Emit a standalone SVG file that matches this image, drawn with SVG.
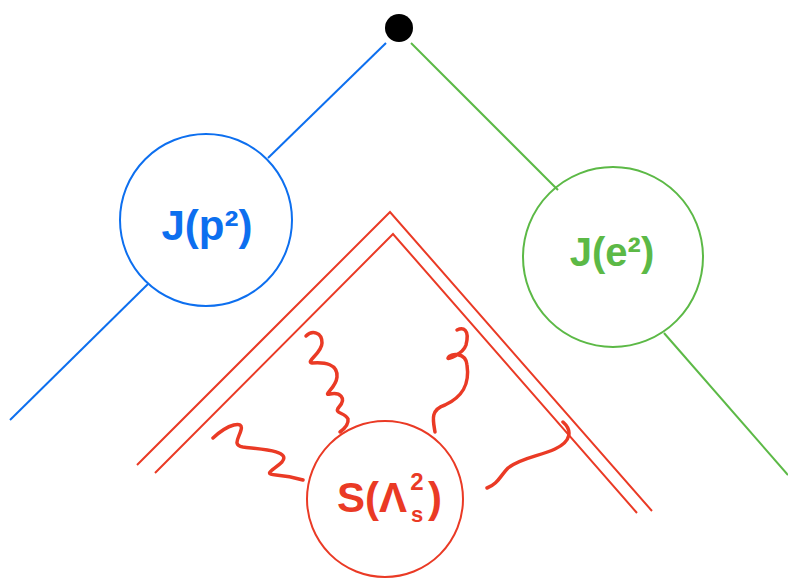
<svg xmlns="http://www.w3.org/2000/svg" width="788" height="582" viewBox="0 0 788 582">
<style>
.b{stroke:#0d6fef;fill:none;stroke-width:2}
.g{stroke:#5cb946;fill:none;stroke-width:2}
.r{stroke:#ea3a25;fill:none;stroke-width:2}
.w{stroke:#ea3a25;fill:none;stroke-width:3.5;stroke-linecap:round;stroke-linejoin:round}
.t{font-family:"Liberation Sans",Arial,sans-serif;font-weight:bold}
</style>
<rect width="788" height="582" fill="#fff"/>
<g id="connectors">
<line class="b" x1="386" y1="43" x2="268" y2="158"/>
<line class="b" x1="148" y1="284" x2="10" y2="420"/>
<line class="g" x1="411" y1="43" x2="558" y2="190"/>
<line class="g" x1="664" y1="333" x2="788" y2="475"/>
<polyline class="r" points="137,465 390,212 652,511"/>
<polyline class="r" points="155,473 393,234 637,513"/>
<path class="w" d="M213,438 C228,424 244,420 241,430 C239,438 232,445 243,447 C258,449 292,450 282,462 C274,470 262,474 276,475 C288,476 296,478 303,480"/>
<path class="w" d="M306,336 C312,330 322,332 322,343 C322,353 305,362 312,363 C325,362 338,364 337,377 C336,388 322,396 330,394 C340,392 347,398 339,407 C333,414 345,412 348,419 C349,425 344,429 340,432"/>
<path class="w" d="M457,330 C463,327 470,329 466,345 C463,354 447,360 448,358 C450,353 466,352 467,365 C470,385 462,397 445,405 C430,410 433,420 435,432"/>
<path class="w" d="M563,422 C572,430 572,441 555,449 C540,456 520,458 508,468 C500,476 498,484 487,488"/>
</g>
<g id="vertex">
<circle cx="399" cy="28" r="14" fill="#000"/>
</g>
<g id="jet-p">
<circle cx="206" cy="220" r="86" class="b"/>
<text x="207" y="240" class="t" font-size="42" fill="#0d6fef" text-anchor="middle">J(p²)</text>
</g>
<g id="jet-e">
<circle cx="613" cy="257" r="90" class="g"/>
<text x="612" y="266" class="t" font-size="40" fill="#5cb946" text-anchor="middle">J(e²)</text>
</g>
<g id="soft" fill="#ea3a25">
<circle cx="385" cy="499" r="78" class="r"/>
<text x="407" y="512" class="t" font-size="42" text-anchor="end">S(Λ</text>
<text x="417" y="522" class="t" font-size="22" text-anchor="middle">s</text>
<text x="417" y="490" class="t" font-size="24" text-anchor="middle">2</text>
<text x="428" y="512" class="t" font-size="42">)</text>
</g>
</svg>
